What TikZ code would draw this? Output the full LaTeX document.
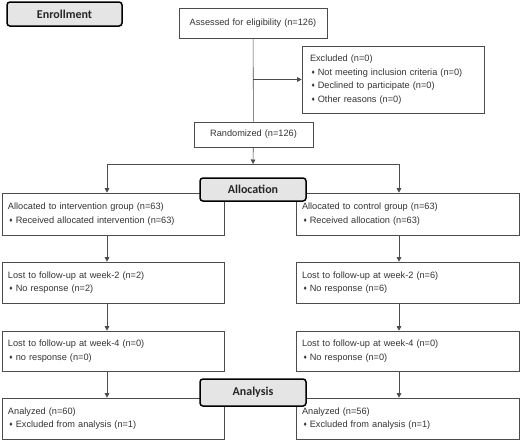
\documentclass[tikz,border=0pt]{standalone}
\usepackage{fontspec}
\setmainfont{Liberation Sans}
\newfontfamily\headfont{Carlito}
\usetikzlibrary{arrows.meta}
\newcommand\bul{\hspace{1.5pt}\raisebox{0.2ex}{\scalebox{0.7}{♦}}\hspace{3pt}}
\begin{document}
\begin{tikzpicture}[x=1pt,y=-1pt,
  every node/.style={font=\fontsize{9.2}{13.5}\selectfont,text=black!80},
  box/.style={draw=black!70,line width=0.6pt,inner xsep=6pt,inner ysep=0pt,align=left},
  head/.style={draw=black,line width=1.5pt,rounded corners=3pt,fill=black!10,
    minimum width=106pt,font=\headfont\bfseries\fontsize{12}{14}\selectfont,text=black!85},
  arr/.style={-{Triangle[length=4.5pt,width=4.5pt]}}]
  \useasboundingbox (0,0) rectangle (520,440);
  % enrollment
  \node[box,align=center,text width=136pt,minimum height=30pt] (assess) at (253,23) {Assessed for eligibility (n=126)};
  \node[box,inner xsep=8pt,text width=166pt,minimum height=67pt] (excl) at (393,79.5)
    {Excluded (n=0)\\ \bul Not meeting inclusion criteria (n=0)\\ \bul Declined to participate (n=0)\\ \bul Other reasons (n=0)};
  \node[box,align=center,text width=107pt,minimum height=25pt] (rand) at (253.5,134.5) {Randomized (n=126)};
  \coordinate (j1) at (assess.south |- excl.west);
  \draw[black!70,line width=0.6pt] (assess) -- (rand);
  \draw[black!70,line width=0.6pt,arr] (j1) -- (excl);
  % groups
  \node[box,text width=210pt,minimum height=42pt] (al1) at (113,214)
    {Allocated to intervention group (n=63)\\ \bul Received allocated intervention (n=63)};
  \node[box,text width=211pt,minimum height=42pt] (al2) at (407.5,214)
    {Allocated to control group (n=63)\\ \bul Received allocation (n=63)};
  \node[box,text width=210pt,minimum height=41pt] (lw2a) at (113,282.5)
    {Lost to follow-up at week-2 (n=2)\\ \bul No response (n=2)};
  \node[box,text width=211pt,minimum height=41pt] (lw2b) at (407.5,282.5)
    {Lost to follow-up at week-2 (n=6)\\ \bul No response (n=6)};
  \node[box,text width=210pt,minimum height=40pt] (lw4a) at (113,351)
    {Lost to follow-up at week-4 (n=0)\\ \bul no response (n=0)};
  \node[box,text width=211pt,minimum height=40pt] (lw4b) at (407.5,351)
    {Lost to follow-up at week-4 (n=0)\\ \bul No response (n=0)};
  \node[box,text width=210pt,minimum height=41pt] (an1) at (113,418.5)
    {Analyzed (n=60)\\ \bul Excluded from analysis (n=1)};
  \node[box,text width=211pt,minimum height=41pt] (an2) at (407.5,418.5)
    {Analyzed (n=56)\\ \bul Excluded from analysis (n=1)};
  % connectors
  \coordinate (split) at (253,164);
  \coordinate (cl) at (107,164);
  \coordinate (cr) at (399,164);
  \begin{scope}[black!70,line width=0.6pt]
    \draw[arr] (rand) -- (split);
    \draw (cl) -- (cr);
    \draw[arr] (cl) -- (cl |- al1.north);
    \draw[arr] (cr) -- (cr |- al2.north);
    \draw[arr] (cl |- al1.south) -- (cl |- lw2a.north);
    \draw[arr] (cr |- al2.south) -- (cr |- lw2b.north);
    \draw[arr] (cl |- lw2a.south) -- (cl |- lw4a.north);
    \draw[arr] (cr |- lw2b.south) -- (cr |- lw4b.north);
    \draw[arr] (cl |- lw4a.south) -- (cl |- an1.north);
    \draw[arr] (cr |- lw4b.south) -- (cr |- an2.north);
  \end{scope}
  % stage headers on top
  \node[head,minimum width=115pt,minimum height=24pt] (enroll) at (64.5,14) {Enrollment};
  \node[head,minimum height=23pt] (alloc) at (253,189.5) {Allocation};
  \node[head,minimum height=27pt] (anl) at (253,392.5) {Analysis};
\end{tikzpicture}
\end{document}
